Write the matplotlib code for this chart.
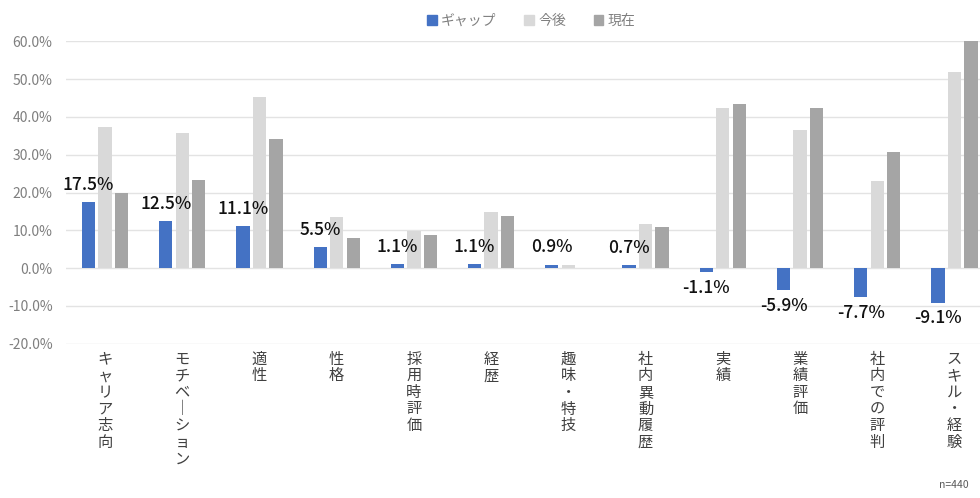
import numpy as np
import matplotlib
matplotlib.use("Agg")
import matplotlib.pyplot as plt
from matplotlib.patches import Patch

plt.rcParams['font.family'] = ['Noto Sans CJK JP', 'DejaVu Sans']

categories = ['キャリア志向', 'モチベーション', '適性', '性格', '採用時評価', '経歴',
              '趣味・特技', '社内異動履歴', '実績', '業績評価', '社内での評判', 'スキル・経験']
future = [37.3, 35.7, 45.3, 13.5, 9.9, 14.9, 0.9, 11.6, 42.3, 36.5, 23.1, 52.0]   # 今後
current = [19.8, 23.2, 34.2, 8.0, 8.8, 13.8, 0.0, 10.9, 43.4, 42.4, 30.8, 61.1]   # 現在
gap = [17.5, 12.5, 11.1, 5.5, 1.1, 1.1, 0.9, 0.7, -1.1, -5.9, -7.7, -9.1]         # ギャップ

series_names = ['ギャップ', '今後', '現在']
colors = ['#4472C4', '#D9D9D9', '#A5A5A5']


def vertical(text):
    # stack characters top to bottom, long vowel mark drawn upright
    return '\n'.join('｜' if c == 'ー' else c for c in text)


fig = plt.figure(figsize=(9.8, 4.98), dpi=100)
ax = fig.add_axes([0.0678, 0.3098, 0.9455, 0.6072])

x = np.arange(len(categories))
w = 0.172
off = 0.214
ax.bar(x - off, gap, w, color=colors[0], zorder=3)
ax.bar(x, future, w, color=colors[1], zorder=3)
ax.bar(x + off, current, w, color=colors[2], zorder=3)

for xi, g in zip(x, gap):
    if g >= 0:
        ax.annotate(f'{g:.1f}%', (xi - off, g), xytext=(0, 6), textcoords='offset points',
                    ha='center', va='bottom', fontsize=12.5, color='#111111', fontweight='medium')
    else:
        ax.annotate(f'{g:.1f}%', (xi - off, g), xytext=(0, -5), textcoords='offset points',
                    ha='center', va='top', fontsize=12.5, color='#111111', fontweight='medium')

ax.set_xlim(-0.5, len(categories) - 0.5)
ax.set_ylim(-20, 60)
ax.set_yticks(np.arange(-20, 61, 10))
ax.set_yticklabels([f'{v:.1f}%' for v in np.arange(-20, 61, 10)], fontsize=10, color='#7f7f7f')
ax.yaxis.grid(True, color='#e3e3e3', linewidth=1, zorder=0)
ax.set_axisbelow(True)
for s in ax.spines.values():
    s.set_visible(False)
ax.tick_params(axis='both', length=0)
ax.tick_params(axis='y', pad=10)

ax.set_xticks(x)
ax.set_xticklabels([vertical(c) for c in categories], fontsize=11, color='#404040',
                   linespacing=0.97, va='top')
ax.tick_params(axis='x', pad=5)

handles = [Patch(color=c) for c in colors]
fig.legend(handles, series_names, loc='center', bbox_to_anchor=(0.542, 0.958), ncol=3,
           frameon=False, fontsize=10, labelcolor='#7f7f7f', handlelength=0.7,
           handleheight=0.7, handletextpad=0.3, columnspacing=2.0)

fig.text(0.988, 0.016, 'n=440', ha='right', va='bottom', fontsize=7.5, color='#595959')

fig.savefig('out.png', dpi=100)
